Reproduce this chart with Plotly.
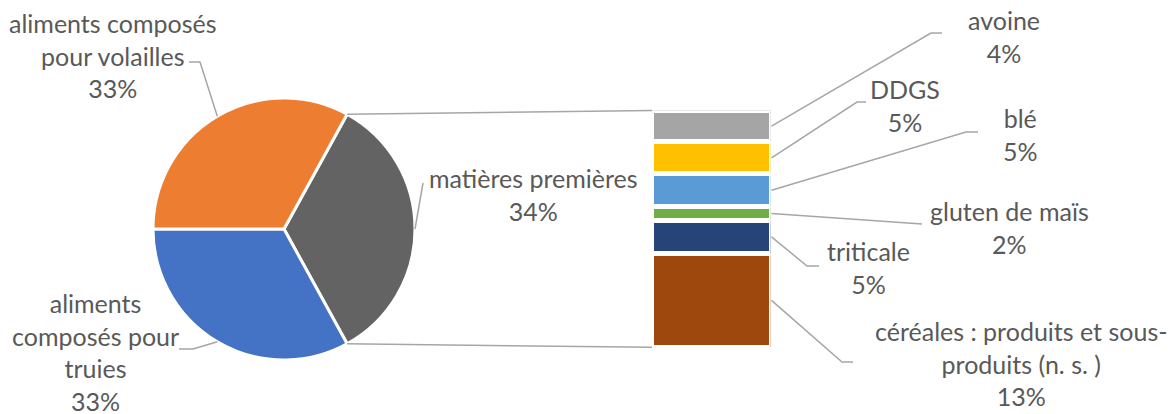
import plotly.graph_objects as go
import math

W, H = 1173, 414

# ---------------- data ----------------
pie_labels = ["matières premières", "aliments composés pour truies", "aliments composés pour volailles"]
pie_display = ["matières premières", "aliments<br>composés pour<br>truies", "aliments composés<br>pour volailles"]
pie_values = [34, 33, 33]
pie_colors = ["#636363", "#4472C4", "#ED7D31"]

# stacked bar, bottom to top
bar_labels = ["céréales : produits et sous-<br>produits (n. s. )", "triticale", "gluten de maïs", "blé", "DDGS", "avoine"]
bar_values = [13.3, 4.75, 1.9, 4.65, 4.55, 4.45]
bar_colors = ["#9E480E", "#264478", "#70AD47", "#5B9BD5", "#FFC000", "#A5A5A5"]

# ---------------- layout geometry (pixels) ----------------
cx, cy, r = 284, 229, 131
bar_x0, bar_x1 = 652, 770.5
bar_y_top, bar_y_bot = 110.5, 347.3

pie_label_pos = [(533, 194), (95, 352), (113, 56)]
pie_label_elbow = [None, (179, 349), (189, 62)]
pie_leader_start = [(423, 183), (193, 349), (200, 62)]

bar_label_pos = [(1021, 363), (868, 267), (1009, 227), (1020, 134), (905, 105), (1004, 37)]
bar_leader_elbow = [(842, 362), (807, 266), (922, 224), (966, 132), (857, 102), (931, 33)]
bar_leader_end = [(853, 362), (819, 266), (922, 224), (978, 132), (866, 102), (942, 33)]

TEXT = "#595959"
LINE = "#A6A6A6"
FONT = "Lato"
FS = 25


def px(x):
    return x / W


def py(y):
    return 1 - y / H


fig = go.Figure()

total_pie = sum(pie_values)
rotation = 90 - 180 * pie_values[0] / total_pie

fig.add_trace(go.Pie(
    labels=pie_labels,
    values=pie_values,
    sort=False,
    direction="clockwise",
    rotation=rotation,
    marker=dict(colors=pie_colors, line=dict(color="white", width=3)),
    textinfo="none",
    hoverinfo="label+percent",
    showlegend=False,
    domain=dict(x=[px(cx - r), px(cx + r)], y=[py(cy + r), py(cy - r)]),
))

for lab, v, c in zip(bar_labels, bar_values, bar_colors):
    fig.add_trace(go.Bar(
        x=[0], y=[v], name=lab.replace("<br>", " "),
        marker=dict(color=c, line=dict(color="white", width=4.5)),
        showlegend=False, hoverinfo="name+y",
    ))

total_bar = sum(bar_values)

shapes = []
annotations = []


def pt_on_pie(angle_deg):
    a = math.radians(angle_deg)
    return cx + r * math.sin(a), cy - r * math.cos(a)


def poly(points):
    d = "M " + " L ".join(f"{px(x):.5f},{py(y):.5f}" for x, y in points)
    shapes.append(dict(type="path", path=d, xref="paper", yref="paper",
                       line=dict(color=LINE, width=1.5)))


def label(x, y, text):
    annotations.append(dict(x=px(x), y=py(y), xref="paper", yref="paper",
                            xanchor="center", yanchor="middle",
                            text=text, showarrow=False, align="center",
                            font=dict(family=FONT, size=FS, color=TEXT)))


# connector lines pie -> bar
a0 = rotation
a1 = rotation + 360 * pie_values[0] / total_pie
poly([pt_on_pie(a0), (bar_x0, bar_y_top)])
poly([pt_on_pie(a1), (bar_x0, bar_y_bot)])

# pie labels and leaders
cum = 0
for i, (lab, v) in enumerate(zip(pie_display, pie_values)):
    mid = rotation + 360 * (cum + v / 2) / total_pie
    cum += v
    pts = []
    if pie_label_elbow[i] is not None:
        pts.append(pie_label_elbow[i])
    pts.append(pie_leader_start[i])
    pts.append(pt_on_pie(mid))
    poly(pts)
    x, y = pie_label_pos[i]
    label(x, y, f"{lab}<br>{int(round(100 * v / total_pie))}%")

# bar labels and leaders
cum = 0
for i, (lab, v) in enumerate(zip(bar_labels, bar_values)):
    mid_val = cum + v / 2
    cum += v
    ymid = bar_y_bot - (mid_val / total_bar) * (bar_y_bot - bar_y_top)
    poly([(bar_x1 + 1, ymid), bar_leader_elbow[i], bar_leader_end[i]])
    x, y = bar_label_pos[i]
    label(x, y, f"{lab}<br>{int(v + 0.5)}%")

fig.update_layout(
    width=W, height=H,
    margin=dict(l=0, r=0, t=0, b=0),
    paper_bgcolor="white", plot_bgcolor="rgba(0,0,0,0)",
    barmode="stack", bargap=0,
    xaxis=dict(domain=[px(bar_x0), px(bar_x1)], range=[-0.5, 0.5], visible=False, fixedrange=True),
    yaxis=dict(domain=[py(bar_y_bot), py(bar_y_top)], range=[0, total_bar], visible=False, fixedrange=True),
    shapes=shapes,
    annotations=annotations,
    font=dict(family=FONT, color=TEXT),
)

fig.write_html("out.html")
